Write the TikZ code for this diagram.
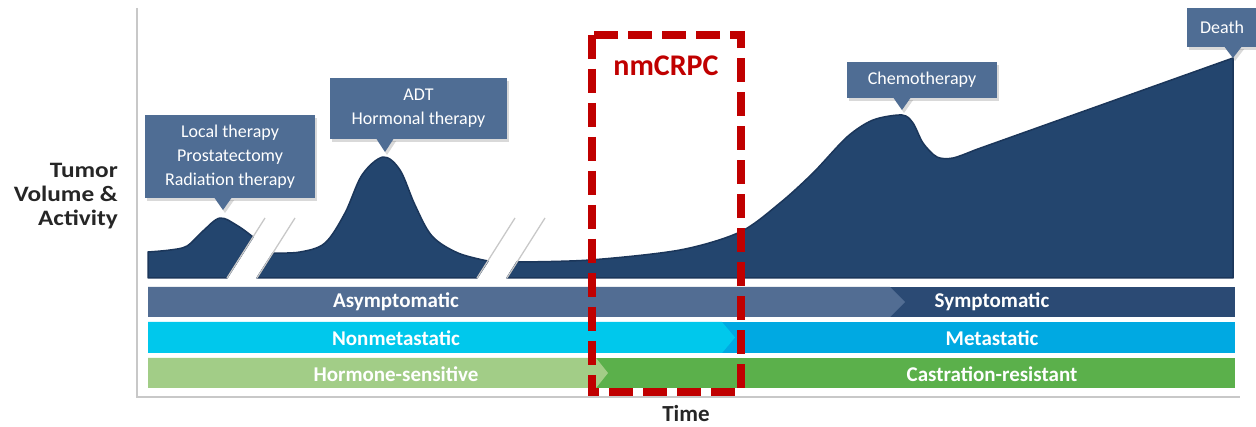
\documentclass[tikz,border=0pt]{standalone}
\usepackage{fontspec}
\setmainfont{Carlito}
\usetikzlibrary{calc,shadows}
\definecolor{navy}{HTML}{23456E}
\definecolor{navyedge}{HTML}{1B365A}
\definecolor{callcol}{HTML}{4F6D94}
\definecolor{asym}{HTML}{526D93}
\definecolor{sym}{HTML}{2B4A74}
\definecolor{nonmet}{HTML}{00C8EC}
\definecolor{met}{HTML}{00A9E2}
\definecolor{hsens}{HTML}{A2CD87}
\definecolor{cres}{HTML}{5BB04B}
\definecolor{crpc}{HTML}{C00000}
\definecolor{axiscol}{HTML}{C8C8C8}
\tikzset{
  callout/.style={fill=callcol, text=white, inner sep=0pt, align=center,
    font=\fontsize{18}{24}\selectfont,
    drop shadow={shadow xshift=2pt, shadow yshift=-3pt, opacity=0.3}},
  ptr/.style={fill=callcol, drop shadow={shadow xshift=2pt, shadow yshift=-3pt, opacity=0.3}},
  bartext/.style={text=white, font=\fontsize{21}{24}\selectfont\bfseries},
  slash/.style={draw=axiscol, line width=1.3pt},
  tumor/.style={fill=navy, draw=navyedge, line width=1.5pt, line join=round},
}
\begin{document}
\begin{tikzpicture}[x=1pt,y=-1pt]
\useasboundingbox (0,0) rectangle (1256,427);
% axes
\draw[axiscol, line width=1.3pt] (137,8) -- (137,397) -- (1240,397);
% tumor curve
\filldraw[tumor] (148,278) -- (148,252)
  -- plot[smooth, tension=0.55] coordinates {(148,252) (170,250) (187,246) (203,231) (220,218) (238,226) (253,237)}
  -- (227,278) -- cycle;
\filldraw[tumor] (257,278) -- (273,253)
  -- plot[smooth, tension=0.55] coordinates {(273,253) (300,252) (325,243) (345,213) (362,175) (383,157) (400,170) (415,205) (432,236) (458,253) (488,261)}
  -- (477,278) -- cycle;
\filldraw[tumor] (507,278) -- (517,262)
  -- plot[smooth, tension=0.5] coordinates {(517,262) (590,260) (680,250) (740,232) (780,203) (813,173) (847,137) (873,120) (902,115) (913,123) (923,143) (937,157) (953,158) (975,150)}
  -- (1233,58) -- (1233,278) -- cycle;
% slashes
\draw[slash] (227,278) -- (265,218);
\draw[slash] (257,278) -- (295,218);
\draw[slash] (477,278) -- (515,218);
\draw[slash] (507,278) -- (545,218);
% callouts
\node[callout, minimum width=170pt, minimum height=83pt] (local) at (230,156.5) {Local therapy\\Prostatectomy\\Radiation therapy};
\coordinate (tipL) at (223,210);
\fill[ptr] ($(local.south -| tipL)+(-9,-1)$) -- (tipL) -- ($(local.south -| tipL)+(9,-1)$) -- cycle;
\node[callout, minimum width=177pt, minimum height=61pt] (adt) at (418.5,108.5) {ADT\\Hormonal therapy};
\coordinate (tipA) at (385,152);
\fill[ptr] ($(adt.south -| tipA)+(-9,-1)$) -- (tipA) -- ($(adt.south -| tipA)+(9,-1)$) -- cycle;
\node[callout, minimum width=150pt, minimum height=36pt] (chemo) at (922,80) {Chemotherapy};
\coordinate (tipC) at (902,110);
\fill[ptr] ($(chemo.south -| tipC)+(-9,-1)$) -- (tipC) -- ($(chemo.south -| tipC)+(9,-1)$) -- cycle;
\node[callout, minimum width=70pt, minimum height=39pt] (death) at (1222,27.5) {Death};
\coordinate (tipD) at (1233,58);
\fill[ptr] ($(death.south -| tipD)+(-9,-1)$) -- (tipD) -- ($(death.south -| tipD)+(9,-1)$) -- cycle;
% bars
\fill[sym] (148,287) rectangle (1235,317);
\fill[asym] (148,287) -- (890,287) -- (905,302) -- (890,317) -- (148,317) -- cycle;
\fill[met] (148,322) rectangle (1235,353);
\fill[nonmet] (148,322) -- (722,322) -- (735,337.5) -- (722,353) -- (148,353) -- cycle;
\fill[cres] (148,358) rectangle (1235,388);
\fill[hsens] (148,358) -- (596,358) -- (608,373) -- (596,388) -- (148,388) -- cycle;
\node[bartext] (asymt) at (396,302) {Asymptomatic};
\node[bartext] (symt) at (992,302) {Symptomatic};
\node[bartext] (nonmett) at (396,338) {Nonmetastatic};
\node[bartext] (mett) at (992,338) {Metastatic};
\node[bartext] (hsenst) at (396,374) {Hormone-sensitive};
\node[bartext] (crest) at (992,374) {Castration-resistant};
% nmCRPC box
\draw[crpc, line width=8pt, dash pattern=on 24pt off 10pt] (592,35) rectangle (741,392);
\node[text=crpc, font=\fontsize{30}{32}\selectfont\bfseries] (nm) at (666,66) {nmCRPC};
% labels
\node[font=\fontsize{23}{24}\selectfont\bfseries, text=black!85] (time) at (686,414) {Time};
\node[font=\fontsize{22}{24}\selectfont\bfseries\addfontfeature{FakeStretch=1.15}, align=right, anchor=east, text=black!85, inner sep=0pt] (ylab) at (118,196) {Tumor\\Volume \&\\Activity};
\end{tikzpicture}
\end{document}
